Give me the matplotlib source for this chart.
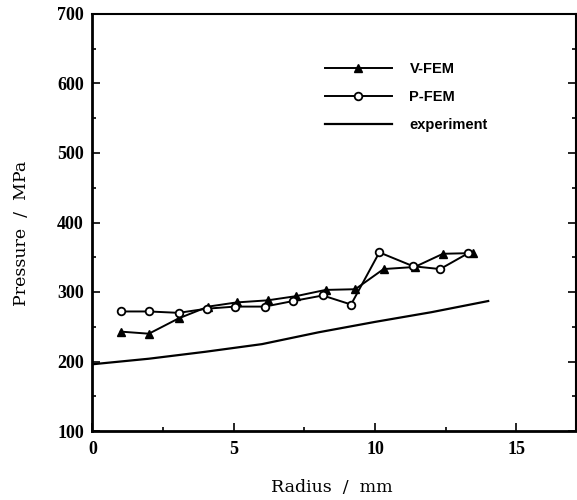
import matplotlib.pyplot as plt
from matplotlib.ticker import MultipleLocator

# values
r_vfem = [1.0, 2.0, 3.05, 4.1, 5.1, 6.2, 7.2, 8.25, 9.3, 10.3, 11.4, 12.4, 13.45]
p_vfem = [243, 240, 262, 279, 285, 288, 294, 303, 304, 333, 336, 355, 356]

r_pfem = [1.0, 2.0, 3.05, 4.05, 5.05, 6.1, 7.1, 8.15, 9.15, 10.15, 11.35, 12.3, 13.3]
p_pfem = [272, 272, 270, 276, 279, 279, 287, 295, 282, 357, 337, 333, 356]

r_exp = [0, 2, 4, 6, 8, 10, 12, 14]
p_exp = [196, 204, 214, 225, 242, 257, 271, 287]

fig = plt.figure(figsize=(5.77, 5.0), dpi=100)
ax = fig.add_axes([0.16, 0.138, 0.838, 0.834])

ax.plot(r_vfem, p_vfem, color='black', lw=1.4, marker='^', ms=6,
        mfc='black', mec='black', label='V-FEM')
ax.plot(r_pfem, p_pfem, color='black', lw=1.4, marker='o', ms=5.5,
        mfc='white', mec='black', mew=1.3, label='P-FEM')
ax.plot(r_exp, p_exp, color='black', lw=1.6, label='experiment')

ax.set_xlim(0, 17.1)
ax.set_ylim(100, 700)
ax.xaxis.set_major_locator(MultipleLocator(5))
ax.xaxis.set_minor_locator(MultipleLocator(2.5))
ax.yaxis.set_major_locator(MultipleLocator(100))
ax.yaxis.set_minor_locator(MultipleLocator(50))
ax.tick_params(which='both', direction='in', right=True, width=1.2)
ax.tick_params(which='major', length=6)
ax.tick_params(which='minor', length=3)

for lab in ax.get_xticklabels() + ax.get_yticklabels():
    lab.set_fontfamily('Liberation Serif')
    lab.set_fontweight('bold')
    lab.set_fontsize(13)
ax.tick_params(axis='x', pad=7)
ax.tick_params(axis='y', pad=6)

for side in ['left', 'bottom']:
    ax.spines[side].set_linewidth(2.0)
for side in ['top', 'right']:
    ax.spines[side].set_linewidth(1.5)

# axis titles placed where the reference has them
fig.text(332 / 577, 1 - 487 / 500, 'Radius  /  mm', family='DejaVu Serif',
         fontsize=12.5, ha='center', va='center')
fig.text(22 / 577, 1 - 233 / 500, 'Pressure  /  MPa', family='DejaVu Serif',
         fontsize=12.5, ha='center', va='center', rotation=90)

ax.legend(loc='upper left', bbox_to_anchor=(0.481, 0.885), frameon=False,
          borderpad=0, borderaxespad=0,
          handlelength=4.6, handletextpad=1.2, labelspacing=0.95,
          prop={'family': 'Liberation Sans', 'weight': 'bold', 'size': 10.5})

plt.savefig('out.png', dpi=100)
